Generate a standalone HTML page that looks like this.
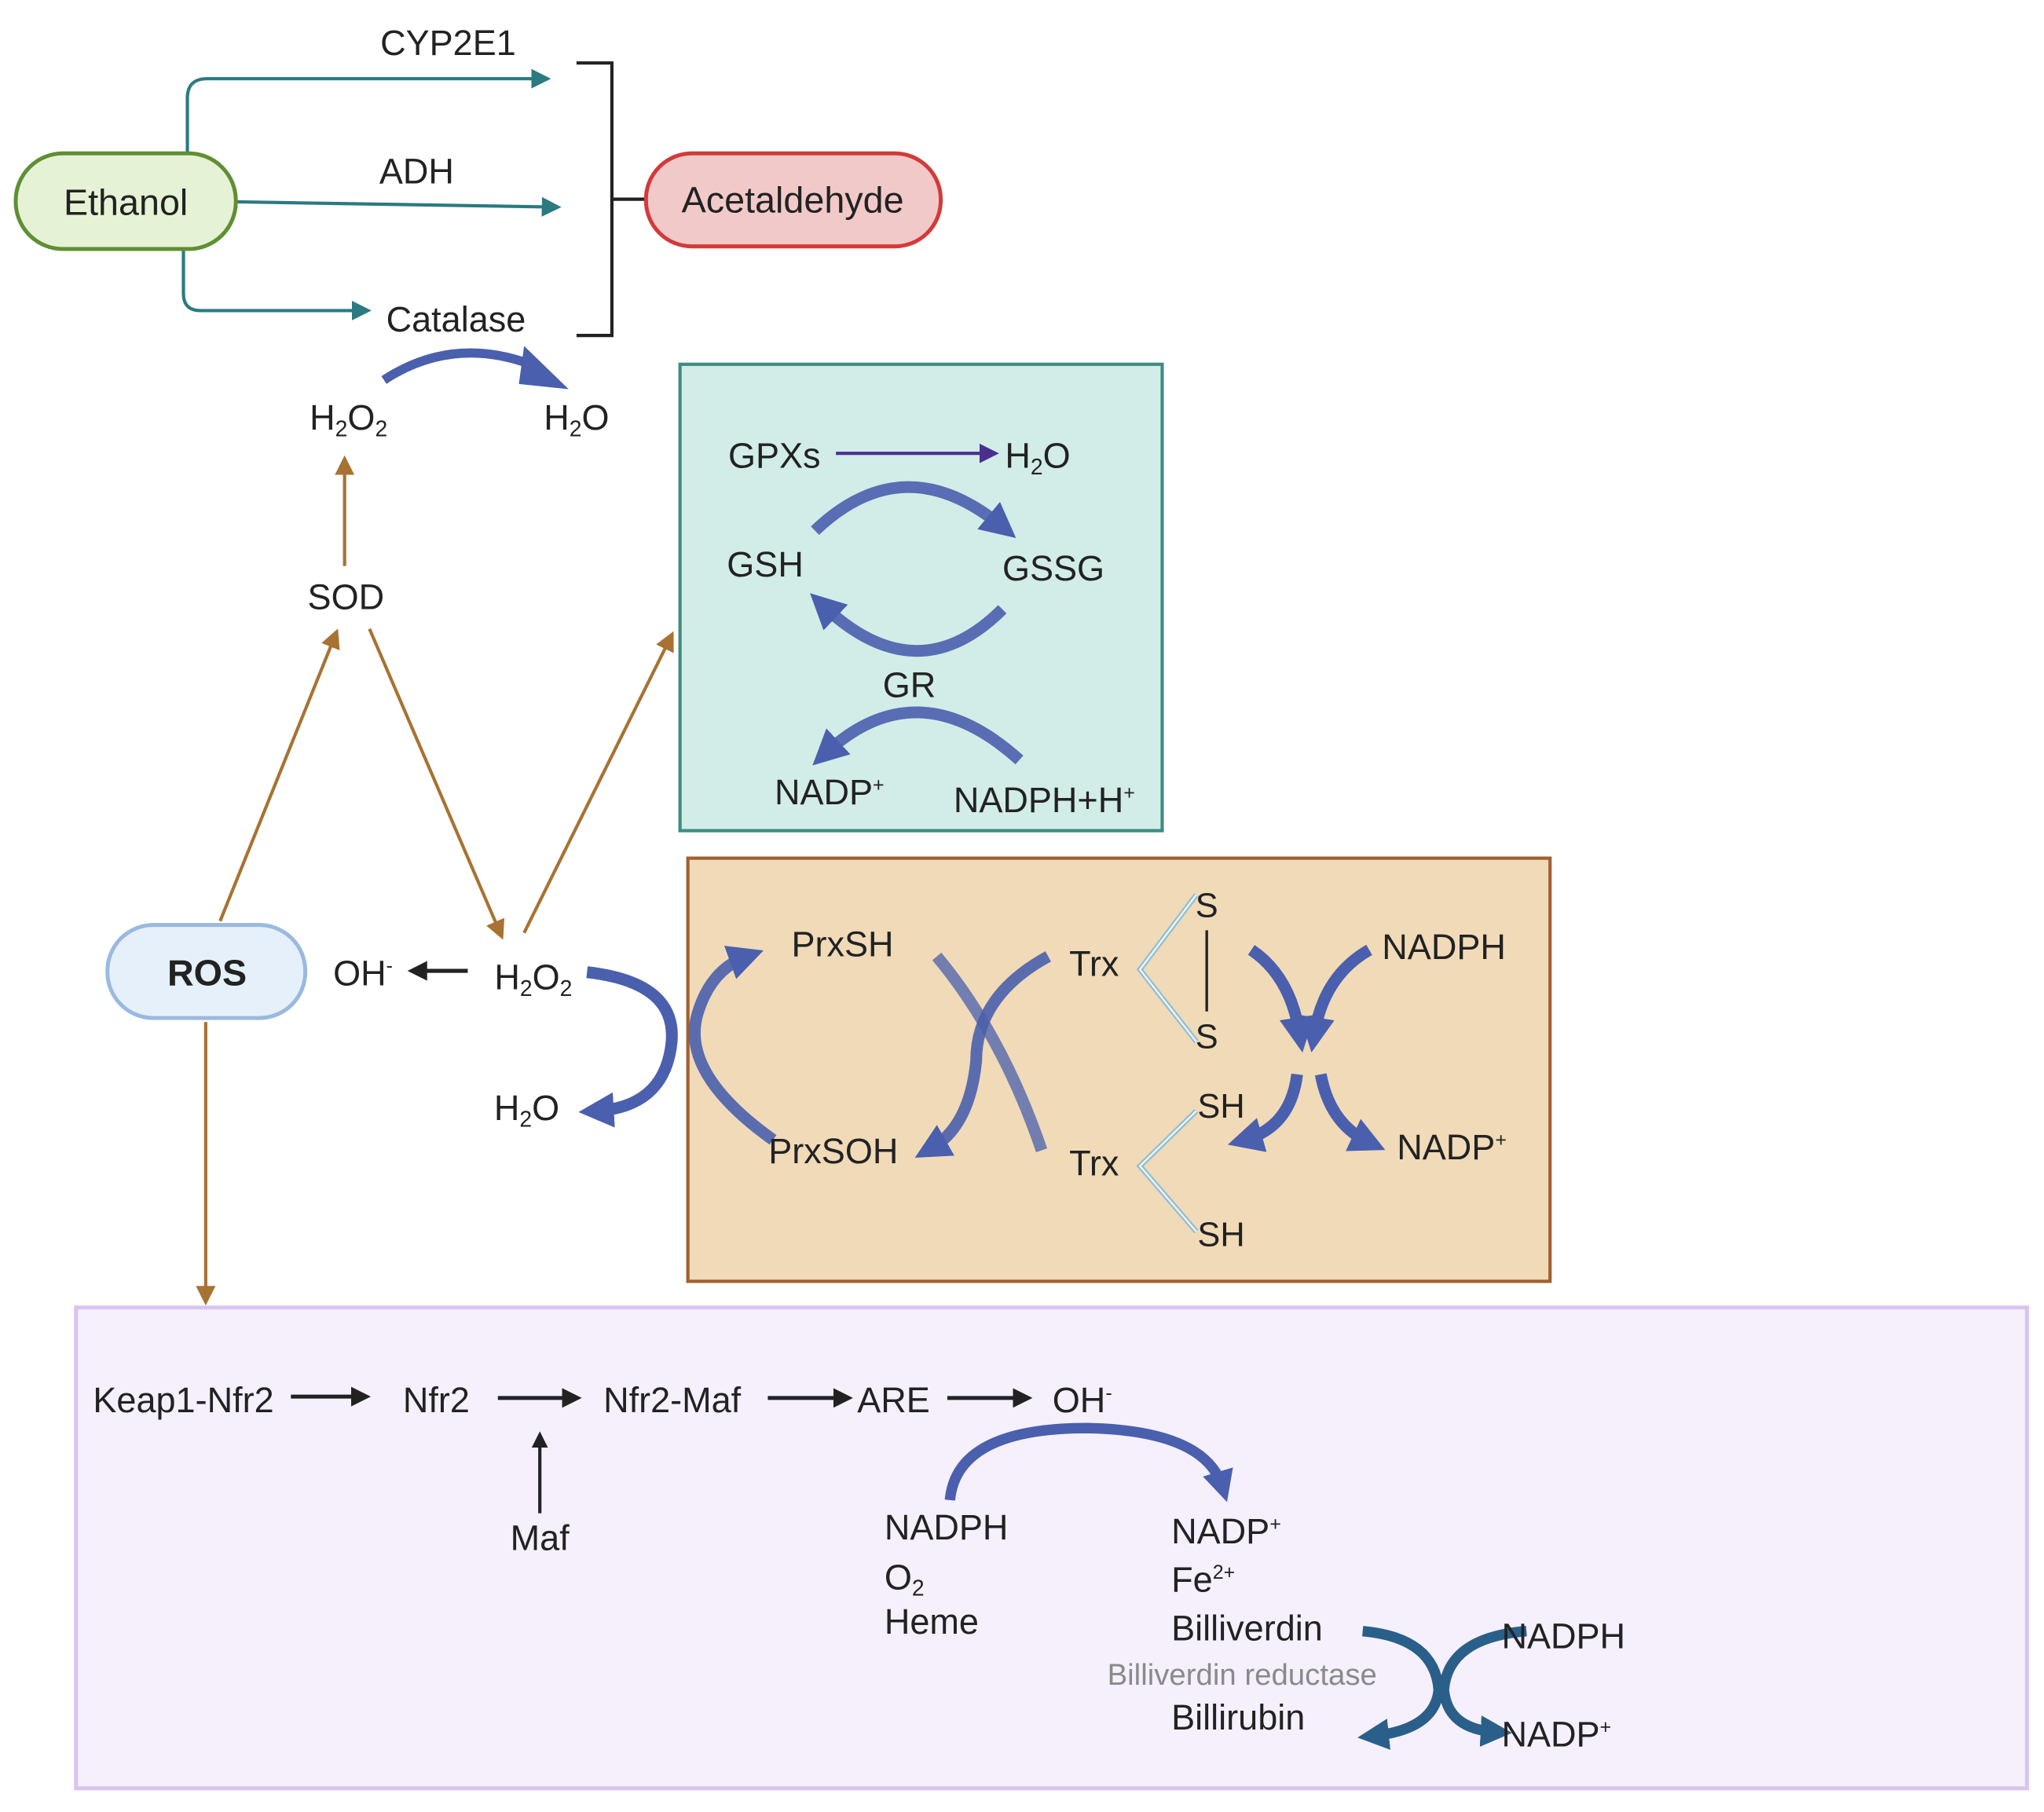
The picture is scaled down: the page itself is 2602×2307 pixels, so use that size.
<!DOCTYPE html>
<html><head><meta charset="utf-8"><style>
html,body{margin:0;padding:0;background:#fff;}
svg{display:block;}
text{font-family:"Liberation Sans",sans-serif;fill:#222;}
</style></head><body>
<svg width="2602" height="2307" viewBox="0 0 1560 1383" xmlns="http://www.w3.org/2000/svg">
<defs>
<marker id="mt" markerWidth="6" markerHeight="6" refX="5" refY="3" orient="auto" markerUnits="strokeWidth"><path d="M0,0 L6,3 L0,6 z" fill="#2b7a80"/></marker>
<marker id="mbr" markerWidth="6" markerHeight="6" refX="5" refY="3" orient="auto" markerUnits="strokeWidth"><path d="M0,0 L6,3 L0,6 z" fill="#a87232"/></marker>
<marker id="mk" markerWidth="5" markerHeight="5" refX="4" refY="2.5" orient="auto" markerUnits="strokeWidth"><path d="M0,0 L5,2.5 L0,5 z" fill="#222"/></marker>
<marker id="mp" markerWidth="6" markerHeight="6" refX="5" refY="3" orient="auto" markerUnits="strokeWidth"><path d="M0,0 L6,3 L0,6 z" fill="#4b2f8f"/></marker>
<marker id="mb" markerWidth="3" markerHeight="3" refX="1.5" refY="1.5" orient="auto" markerUnits="strokeWidth"><path d="M0,0 L3,1.5 L0,3 z" fill="#4a5fad"/></marker>
<marker id="md" markerWidth="3" markerHeight="3" refX="1.5" refY="1.5" orient="auto" markerUnits="strokeWidth"><path d="M0,0 L3,1.5 L0,3 z" fill="#2a5f8a"/></marker>
</defs>

<path d="M143,117 V75 Q143,60 158,60 H418" fill="none" stroke="#2b7a80" stroke-width="2.5" marker-end="url(#mt)"/>
<path d="M180,154 L426,158" fill="none" stroke="#2b7a80" stroke-width="2.5" marker-end="url(#mt)"/>
<path d="M140,190 V224 Q140,237 153,237 H281" fill="none" stroke="#2b7a80" stroke-width="2.5" marker-end="url(#mt)"/>
<rect x="12" y="117" width="168" height="73" rx="36" fill="#e6f2d5" stroke="#5f8f33" stroke-width="3"/>
<text x="96" y="164" font-size="28" text-anchor="middle">Ethanol</text>
<text x="342" y="42" font-size="27" text-anchor="middle">CYP2E1</text>
<text x="318" y="140" font-size="27" text-anchor="middle">ADH</text>
<text x="348" y="253" font-size="27" text-anchor="middle">Catalase</text>
<path d="M440,48 H467 V256 H440 M467,152 H493" fill="none" stroke="#222" stroke-width="2.5"/>
<rect x="493" y="117" width="225" height="71" rx="35" fill="#f2c9c9" stroke="#d33a3a" stroke-width="3"/>
<text x="605" y="162" font-size="28" text-anchor="middle">Acetaldehyde</text>
<path d="M293,290 Q345,256 405,278" fill="none" stroke="#4a5fad" stroke-width="7"/>
<polygon points="400,264 434,297 396,293" fill="#4a5fad"/>
<text x="266" y="328" font-size="27" text-anchor="middle">H<tspan font-size="17" dy="5">2</tspan><tspan dy="-5">O</tspan><tspan font-size="17" dy="5">2</tspan></text>
<text x="440" y="328" font-size="27" text-anchor="middle">H<tspan font-size="17" dy="5">2</tspan><tspan dy="-5">O</tspan></text>

<line x1="263" y1="432" x2="263" y2="350" stroke="#a87232" stroke-width="2.5" marker-end="url(#mbr)"/>
<text x="264" y="465" font-size="27" text-anchor="middle">SOD</text>
<line x1="168" y1="703" x2="257" y2="482" stroke="#a87232" stroke-width="2.5" marker-end="url(#mbr)"/>
<line x1="282" y1="480" x2="383" y2="715" stroke="#a87232" stroke-width="2.5" marker-end="url(#mbr)"/>
<line x1="400" y1="712" x2="513" y2="484" stroke="#a87232" stroke-width="2.5" marker-end="url(#mbr)"/>
<line x1="157" y1="780" x2="157" y2="994" stroke="#a87232" stroke-width="2.5" marker-end="url(#mbr)"/>
<rect x="82" y="706" width="151" height="71" rx="35" fill="#e5f0fa" stroke="#9ab9e0" stroke-width="3"/>
<text x="158" y="752" font-size="28" font-weight="bold" text-anchor="middle">ROS</text>
<text x="277" y="752" font-size="27" text-anchor="middle">OH<tspan font-size="15" dy="-10">-</tspan></text>
<line x1="357" y1="741" x2="314" y2="741" stroke="#222" stroke-width="3" marker-end="url(#mk)"/>
<text x="407" y="755" font-size="27" text-anchor="middle">H<tspan font-size="17" dy="5">2</tspan><tspan dy="-5">O</tspan><tspan font-size="17" dy="5">2</tspan></text>
<text x="402" y="855" font-size="27" text-anchor="middle">H<tspan font-size="17" dy="5">2</tspan><tspan dy="-5">O</tspan></text>
<path d="M448,742 Q520,750 512,800 Q505,845 455,848" fill="none" stroke="#4a5fad" stroke-width="9" marker-end="url(#mb)"/>

<rect x="519" y="278" width="368" height="356" fill="#d2ece8" stroke="#3e8c80" stroke-width="2.5"/>
<text x="591" y="357" font-size="27" text-anchor="middle">GPXs</text>
<line x1="638" y1="346" x2="760" y2="346" stroke="#4b2f8f" stroke-width="2.5" marker-end="url(#mp)"/>
<text x="792" y="357" font-size="27" text-anchor="middle">H<tspan font-size="17" dy="5">2</tspan><tspan dy="-5">O</tspan></text>
<text x="584" y="440" font-size="27" text-anchor="middle">GSH</text>
<text x="804" y="443" font-size="27" text-anchor="middle">GSSG</text>
<text x="694" y="532" font-size="27" text-anchor="middle">GR</text>
<path d="M622,405 Q690,340 765,402" fill="none" stroke="#4a5fad" stroke-width="9" stroke-opacity="0.9" marker-end="url(#mb)"/>
<path d="M765,465 Q700,530 628,462" fill="none" stroke="#4a5fad" stroke-width="9" stroke-opacity="0.9" marker-end="url(#mb)"/>
<path d="M778,580 Q700,510 630,575" fill="none" stroke="#4a5fad" stroke-width="9" stroke-opacity="0.9" marker-end="url(#mb)"/>
<text x="633" y="614" font-size="27" text-anchor="middle">NADP<tspan font-size="15" dy="-10">+</tspan></text>
<text x="797" y="620" font-size="27" text-anchor="middle">NADPH+H<tspan font-size="15" dy="-10">+</tspan></text>

<rect x="525" y="655" width="658" height="323" fill="#f0dab8" stroke="#a0602f" stroke-width="2.5"/>
<path d="M590,870 Q520,820 532,775 Q542,740 570,730" fill="none" stroke="#4a5fad" stroke-width="9" stroke-opacity="0.9" marker-end="url(#mb)"/>
<path d="M715,730 Q765,790 795,878" fill="none" stroke="#4a5fad" stroke-width="9" stroke-opacity="0.75"/>
<path d="M800,730 Q745,760 745,810 Q740,860 710,877" fill="none" stroke="#4a5fad" stroke-width="9" stroke-opacity="0.9" marker-end="url(#mb)"/>
<text x="643" y="730" font-size="27" text-anchor="middle">PrxSH</text>
<text x="636" y="888" font-size="27" text-anchor="middle">PrxSOH</text>
<text x="835" y="745" font-size="27" text-anchor="middle">Trx</text>
<text x="835" y="897" font-size="27" text-anchor="middle">Trx</text>
<path d="M913,683 L870,740 L913,795" fill="none" stroke="#8fbcd0" stroke-width="4"/>
<path d="M913,683 L870,740 L913,795" fill="none" stroke="#eaf4f8" stroke-width="1.5"/>
<path d="M913,848 L870,890 L913,940" fill="none" stroke="#8fbcd0" stroke-width="4"/>
<path d="M913,848 L870,890 L913,940" fill="none" stroke="#eaf4f8" stroke-width="1.5"/>
<line x1="921" y1="710" x2="921" y2="772" stroke="#222" stroke-width="2"/>
<text x="921" y="700" font-size="26" text-anchor="middle">S</text>
<text x="921" y="800" font-size="26" text-anchor="middle">S</text>
<text x="932" y="853" font-size="26" text-anchor="middle">SH</text>
<text x="932" y="951" font-size="26" text-anchor="middle">SH</text>
<path d="M955,725 Q985,745 992,790" fill="none" stroke="#4a5fad" stroke-width="9" marker-end="url(#mb)"/>
<path d="M1045,725 Q1010,745 1003,790" fill="none" stroke="#4a5fad" stroke-width="9" marker-end="url(#mb)"/>
<path d="M990,820 Q985,860 950,870" fill="none" stroke="#4a5fad" stroke-width="9" marker-end="url(#mb)"/>
<path d="M1008,820 Q1015,858 1045,872" fill="none" stroke="#4a5fad" stroke-width="9" marker-end="url(#mb)"/>
<text x="1102" y="732" font-size="27" text-anchor="middle">NADPH</text>
<text x="1108" y="885" font-size="27" text-anchor="middle">NADP<tspan font-size="15" dy="-10">+</tspan></text>

<rect x="58" y="998" width="1489" height="367" fill="#f5f0fc" stroke="#d8c4f0" stroke-width="3"/>
<text x="140" y="1078" font-size="27" text-anchor="middle">Keap1-Nfr2</text>
<line x1="222" y1="1066" x2="280" y2="1066" stroke="#222" stroke-width="3" marker-end="url(#mk)"/>
<text x="333" y="1078" font-size="27" text-anchor="middle">Nfr2</text>
<line x1="380" y1="1067" x2="441" y2="1067" stroke="#222" stroke-width="3" marker-end="url(#mk)"/>
<text x="513" y="1078" font-size="27" text-anchor="middle">Nfr2-Maf</text>
<line x1="586" y1="1067" x2="648" y2="1067" stroke="#222" stroke-width="3" marker-end="url(#mk)"/>
<text x="682" y="1078" font-size="27" text-anchor="middle">ARE</text>
<line x1="723" y1="1067" x2="785" y2="1067" stroke="#222" stroke-width="3" marker-end="url(#mk)"/>
<text x="826" y="1078" font-size="27" text-anchor="middle">OH<tspan font-size="15" dy="-10">-</tspan></text>
<line x1="412" y1="1155" x2="412" y2="1095" stroke="#222" stroke-width="2.5" marker-end="url(#mk)"/>
<text x="412" y="1183" font-size="27" text-anchor="middle">Maf</text>
<path d="M725,1145 Q730,1090 830,1090 Q920,1092 933,1135" fill="none" stroke="#4a5fad" stroke-width="8" marker-end="url(#mb)"/>
<text x="675" y="1175" font-size="27">NADPH</text>
<text x="675" y="1213" font-size="27">O<tspan font-size="17" dy="5">2</tspan></text>
<text x="675" y="1247" font-size="27">Heme</text>
<text x="894" y="1178" font-size="27">NADP<tspan font-size="15" dy="-10">+</tspan></text>
<text x="894" y="1215" font-size="27">Fe<tspan font-size="15" dy="-10">2+</tspan></text>
<text x="894" y="1252" font-size="27">Billiverdin</text>
<text x="948" y="1286" font-size="23" text-anchor="middle" style="fill:#8a8a8a">Billiverdin reductase</text>
<text x="894" y="1320" font-size="27">Billirubin</text>
<path d="M1040,1245 Q1095,1250 1098,1290 Q1095,1320 1048,1325" fill="none" stroke="#2a5f8a" stroke-width="8" marker-end="url(#md)"/>
<path d="M1165,1245 Q1105,1250 1102,1290 Q1105,1320 1142,1322" fill="none" stroke="#2a5f8a" stroke-width="8" marker-end="url(#md)"/>
<text x="1146" y="1258" font-size="27">NADPH</text>
<text x="1146" y="1333" font-size="27">NADP<tspan font-size="15" dy="-10">+</tspan></text>
</svg>
</body></html>
